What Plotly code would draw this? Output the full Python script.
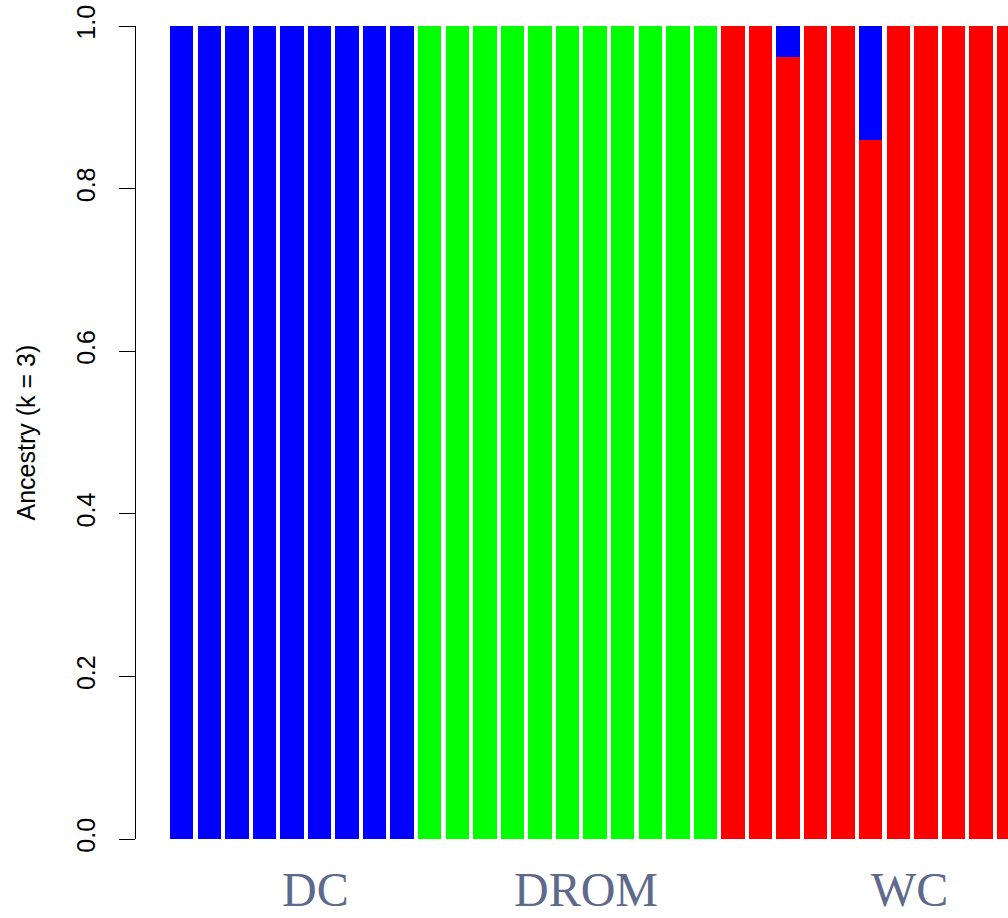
import plotly.graph_objects as go

# Admixture proportions per sample (k = 3), grouped by population
populations = ["DC", "DROM", "WC"]
group_sizes = [9, 11, 11]

q_red = [0, 0, 0, 0, 0, 0, 0, 0, 0,
         0, 0, 0, 0, 0, 0, 0, 0, 0, 0, 0,
         1, 1, 0.962, 1, 1, 0.86, 1, 1, 1, 1, 1]
q_green = [0, 0, 0, 0, 0, 0, 0, 0, 0,
           1, 1, 1, 1, 1, 1, 1, 1, 1, 1, 1,
           0, 0, 0, 0, 0, 0, 0, 0, 0, 0, 0]
q_blue = [1, 1, 1, 1, 1, 1, 1, 1, 1,
          0, 0, 0, 0, 0, 0, 0, 0, 0, 0, 0,
          0, 0, 0.038, 0, 0, 0.14, 0, 0, 0, 0, 0]

y_ticks = [0.0, 0.2, 0.4, 0.6, 0.8, 1.0]
y_title = "Ancestry (k = 3)"

# population label positions along the bar axis
label_x = [4.84, 14.67, 26.39]

samples = list(range(len(q_red)))

fig = go.Figure()
for vals, col in [(q_red, "#FF0000"), (q_green, "#00FF00"), (q_blue, "#0000FF")]:
    fig.add_trace(go.Bar(
        x=samples, y=vals, width=0.85,
        marker=dict(color=col, line=dict(width=0)),
        showlegend=False, hoverinfo="skip",
    ))

annotations = [
    dict(text=y_title, textangle=-90, xref="paper", yref="paper",
         x=0, y=0.5, xanchor="center", yanchor="middle", xshift=-111,
         showarrow=False, font=dict(family="Liberation Sans", size=25, color="black"))
]
for name, lx in zip(populations, label_x):
    annotations.append(dict(
        text=name, xref="x", yref="paper", x=lx, y=0, yshift=-78,
        xanchor="center", yanchor="bottom", showarrow=False, borderpad=0,
        font=dict(family="Liberation Serif", size=48, color="#5E6A8B"),
    ))

fig.update_layout(
    width=1008, height=918,
    margin=dict(l=136, r=0, t=26, b=79),
    paper_bgcolor="white", plot_bgcolor="white",
    barmode="stack",
    xaxis=dict(range=[-1.658, 29.98], visible=False, fixedrange=True),
    yaxis=dict(
        range=[0, 1], tickvals=y_ticks, ticktext=[f"{v:.1f}" for v in y_ticks],
        tickangle=-90, ticks="outside", ticklen=16, tickwidth=1.3, tickcolor="black",
        showline=True, linecolor="black", linewidth=1.3,
        showgrid=False, zeroline=False, ticklabelstandoff=14,
        tickfont=dict(family="Liberation Sans", size=25, color="black"),
    ),
    annotations=annotations,
)

fig.write_html("out.html")
